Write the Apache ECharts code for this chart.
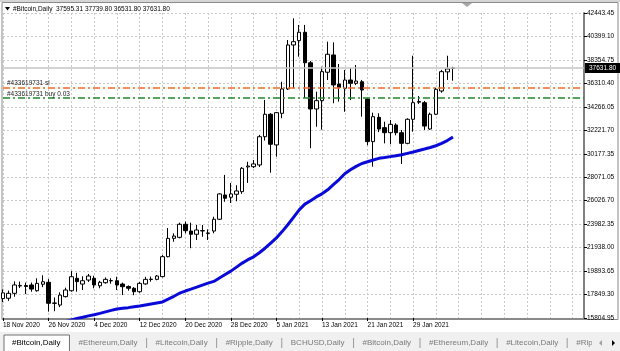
<!DOCTYPE html>
<html>
<head>
<meta charset="utf-8">
<script src="https://cdn.jsdelivr.net/npm/echarts@6.0.0/dist/echarts.min.js"></script>
<style>
  html, body { margin: 0; padding: 0; background: #fff; }
  #chart { width: 620px; height: 351px; }
</style>
</head>
<body>
<div id="chart"></div>
<script>
// daily bars, first one is 18 Nov 2020
var opens = [17500, 17530, 17960, 18600, 18640, 18690, 18190, 18750, 18920, 17080,
  16940, 17670, 18190, 19270, 18770, 19120, 19270, 18620, 18890, 19070,
  19060, 18770, 18560, 18400, 18100, 18780, 19170, 19180, 19420, 21160,
  22760, 22850, 23990, 23400, 23120, 23410, 23230, 23400, 24430, 26550,
  26350, 26610, 26840, 29000, 29020, 29170, 31640, 33600, 30920, 33680,
  35810, 39650, 40030, 40760, 38100, 34060, 34790, 37270, 38780, 36240,
  35870, 36590, 36300, 36440, 34930, 31210, 33330, 32430, 31990, 32660,
  31990, 31060, 33160, 34650, 34610, 32310, 33600, 35630, 37300, 37595.31];
var closes = [18000, 17960, 18690, 18650, 18560, 18330, 18830, 18970, 17090, 17120,
  17810, 18250, 19410, 18980, 19060, 19470, 18690, 18920, 19180, 19050,
  18690, 18540, 18400, 18100, 18830, 19180, 19200, 19470, 21160, 22760,
  22960, 23990, 23430, 23120, 23490, 23440, 23200, 24430, 26640, 26260,
  26640, 26900, 28880, 29080, 29260, 31640, 33600, 30980, 33740, 35810,
  39650, 39940, 40760, 38100, 34060, 34790, 37320, 38840, 36160, 35950,
  36590, 36300, 36500, 35720, 31210, 33390, 32310, 31990, 32720, 31990,
  31060, 33160, 34610, 34720, 32570, 33600, 35780, 37320, 37560, 37631.80];
var lows = [17200, 17300, 17660, 18420, 17900, 18100, 18100, 18500, 16360, 16400,
  16760, 17600, 18100, 18100, 18250, 18950, 18400, 18400, 18800, 18800,
  18250, 17810, 18190, 17800, 18000, 18700, 18980, 19100, 19350, 21100,
  22470, 22760, 23200, 21900, 22620, 22900, 22620, 23200, 24360, 25960,
  25850, 26000, 26650, 27600, 28900, 29000, 31300, 28500, 29900, 33250,
  35720, 35870, 38630, 35020, 30630, 32510, 32250, 36590, 34560, 34700,
  33820, 34840, 36150, 33390, 30900, 29020, 32040, 31060, 30980, 31760,
  29260, 30980, 32080, 34500, 32230, 32230, 33530, 35480, 36600, 36531.80];
var highs = [18300, 18200, 19000, 18990, 18900, 18900, 19270, 19540, 19200, 17600,
  18050, 18450, 19900, 19750, 19450, 19650, 19500, 19050, 19350, 19280,
  19410, 18900, 18650, 18500, 18950, 19400, 19420, 19560, 21300, 23660,
  23200, 24130, 24220, 24130, 23930, 23930, 23550, 24650, 26700, 28300,
  27600, 27400, 28990, 29450, 29600, 31800, 34850, 33700, 33800, 36440,
  40085, 41980, 41400, 41400, 38250, 35570, 37750, 39940, 39880, 37990,
  37470, 37640, 37900, 36600, 35000, 33740, 33680, 32950, 33100, 32810,
  32230, 33250, 38710, 35190, 34760, 33740, 35920, 37470, 38710, 37739.80];
var maValues = [14400, 14500, 14600, 14700, 14800, 14900, 15000, 15100, 15200, 15300,
  15400, 15500, 15640, 15760, 15870, 15990, 16090, 16210, 16340, 16470,
  16590, 16650, 16710, 16780, 16850, 16940, 17030, 17120, 17210, 17450,
  17700, 17970, 18160, 18330, 18500, 18680, 18850, 19000, 19300, 19600,
  19900, 20250, 20600, 20900, 21150, 21500, 21900, 22350, 22800, 23350,
  23950, 24600, 25250, 25750, 26050, 26380, 26650, 27000, 27450, 27900,
  28400, 28750, 29050, 29300, 29450, 29600, 29750, 29820, 29900, 29980,
  30060, 30180, 30300, 30430, 30560, 30700, 30850, 31050, 31300, 31610];
var priceTicks = ['15804.95', '17849.30', '19893.65', '21938.00', '23982.35', '26026.70',
  '28071.05', '30177.35', '32221.70', '34266.05', '36310.40', '38354.75', '40399.10', '42443.45'];
var orderId = '#433619731';
var slPrice = 35950;
var buyPrice = 35000;
var buyLots = '0.03';
var symbolName = '#Bitcoin,Daily';
var tabNames = ['#Bitcoin,Daily', '#Ethereum,Daily', '#Litecoin,Daily', '#Ripple,Daily', 'BCHUSD,Daily',
  '#Bitcoin,Daily', '#Ethereum,Daily', '#Litecoin,Daily', '#Ripple,Daily'];

var slotCount = 103;   // chart shifted: empty room right of last bar
var monthNames = ['Jan', 'Feb', 'Mar', 'Apr', 'May', 'Jun', 'Jul', 'Aug', 'Sep', 'Oct', 'Nov', 'Dec'];
var categories = [];
for (var i = 0; i < slotCount; i++) {
  var d = new Date(Date.UTC(2020, 10, 18 + i));
  categories.push(d.getUTCDate() + ' ' + monthNames[d.getUTCMonth()] + ' ' + d.getUTCFullYear());
}

var candles = opens.map(function(o, i) { return [o, closes[i], lows[i], highs[i]]; });
var last = candles.length - 1;
var font = 'Liberation Sans';
var grid = '#c8c8c8';

function labelDay(i) { return i % 8 === 0 && i <= last; }

// bottom tab strip
var ctx = document.createElement('canvas').getContext('2d');
ctx.font = '8px "' + font + '"';
var tabEls = [
  { type: 'rect', shape: { x: 0, y: 332, width: 620, height: 19 }, style: { fill: '#f0f0f0' }, silent: true }
];
var tx = 12;
tabNames.forEach(function(name, i) {
  var w = ctx.measureText(name).width;
  if (i === 0) {
    tabEls.push({ type: 'rect', shape: { x: tx - 8, y: 335, width: w + 17, height: 17 },
      style: { fill: '#fff', stroke: '#707070', lineWidth: 1 }, silent: true });
  }
  tabEls.push({ type: 'text', x: tx, y: 343,
    style: { text: name, fontSize: 8, fontFamily: font, fill: i === 0 ? '#000' : '#7a7a7a', verticalAlign: 'middle' }, silent: true });
  if (i > 0) {
    tabEls.push({ type: 'rect', shape: { x: tx + w + 8.5, y: 338, width: 1, height: 10 }, style: { fill: '#9a9a9a' }, silent: true });
  }
  tx += w + 18;
});
tabEls.push({ type: 'rect', shape: { x: 592, y: 333, width: 28, height: 18 }, style: { fill: '#f0f0f0' }, silent: true });
tabEls.push({ type: 'polygon', shape: { points: [[602, 340], [602, 346], [599, 343]] }, style: { fill: '#a0a0a0' }, silent: true });
tabEls.push({ type: 'polygon', shape: { points: [[612, 340], [612, 346], [615, 343]] }, style: { fill: '#000' }, silent: true });

var frameEls = [
  { type: 'rect', shape: { x: 0, y: 0, width: 620, height: 2 }, style: { fill: '#d6d6d6' }, silent: true },
  { type: 'rect', shape: { x: 2, y: 2.5, width: 616, height: 317 }, style: { fill: 'none', stroke: '#8a8a8a', lineWidth: 1 }, silent: true },
  { type: 'polygon', shape: { points: [[462, 3], [472, 3], [467, 7]] }, style: { fill: '#a8a8a8' }, silent: true },
  { type: 'polygon', shape: { points: [[5, 7], [10, 7], [7.5, 10.5]] }, style: { fill: '#000' }, silent: true },
  { type: 'text', x: 13, y: 9, style: {
      text: symbolName + '  ' + [opens[last], highs[last], lows[last], closes[last]].map(function(v) { return v.toFixed(2); }).join(' '),
      fontSize: 6.5, fontFamily: font, fill: '#000', verticalAlign: 'middle' }, silent: true }
];

var chart = echarts.init(document.getElementById('chart'), null, { renderer: 'canvas' });

function orderLine(price, color, text) {
  return {
    yAxis: price,
    lineStyle: { color: color, type: [7, 3, 2, 3], width: 1.5, opacity: 1 },
    label: { show: true, position: 'insideStartTop', formatter: text, distance: [4, 1],
      fontSize: 6.5, fontFamily: font, color: '#222', padding: 0 }
  };
}

chart.setOption({
  animation: false,
  backgroundColor: '#fff',
  grid: { left: 3, right: 36, top: 13, bottom: 33 },
  xAxis: {
    type: 'category',
    data: categories,
    boundaryGap: false,
    axisLine: { lineStyle: { color: '#8a8a8a', width: 1 } },
    axisTick: { interval: function(i) { return labelDay(i); }, length: 3, lineStyle: { color: '#000' } },
    axisLabel: { interval: function(i) { return labelDay(i); }, align: 'left', margin: 4,
      fontSize: 6.5, fontFamily: font, color: '#000' },
    splitLine: { show: true, interval: function(i) { return i % 4 === 0; },
      lineStyle: { color: grid, type: [2, 2], width: 1 } }
  },
  yAxis: [
    { type: 'value', min: 15804.95, max: 42443.45, show: false },
    {
      type: 'category',
      data: priceTicks,
      boundaryGap: false,
      position: 'right',
      axisLine: { show: true, lineStyle: { color: '#808080', width: 2 } },
      axisTick: { show: true, interval: 0, length: 3, lineStyle: { color: '#000' } },
      axisLabel: { interval: 0, margin: 3, fontSize: 6.5, fontFamily: font, color: '#000' },
      splitLine: { show: true, interval: 0, lineStyle: { color: grid, type: [2, 2], width: 1 } }
    }
  ],
  series: [
    {
      type: 'candlestick',
      data: candles,
      barWidth: 4,
      itemStyle: { color: '#fff', color0: '#000', borderColor: '#000', borderColor0: '#000', borderWidth: 1 },
      markLine: {
        symbol: ['none', 'none'],
        silent: true,
        data: [
          {
            yAxis: closes[last],
            lineStyle: { color: '#c4c4c4', type: 'solid', width: 1.5 },
            label: { show: true, position: 'end', distance: 1, formatter: closes[last].toFixed(2),
              backgroundColor: '#000', color: '#fff', padding: [2, 4, 1, 4], fontSize: 6.5, fontFamily: font }
          },
          orderLine(slPrice, '#f06a24', orderId + ' sl'),
          orderLine(buyPrice, '#1f8a2a', orderId + ' buy ' + buyLots)
        ]
      }
    },
    {
      type: 'line',
      data: maValues,
      symbol: 'none',
      lineStyle: { color: '#0a0ad8', width: 3 },
      z: 3
    }
  ],
  graphic: frameEls.concat(tabEls)
});
</script>
</body>
</html>
